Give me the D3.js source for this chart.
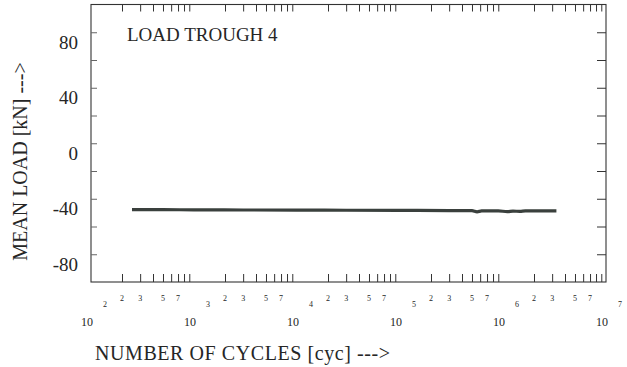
<!DOCTYPE html>
<html>
<head>
<meta charset="utf-8">
<script src="https://cdn.jsdelivr.net/npm/d3@7"></script>
<style>
  html, body { margin: 0; padding: 0; background: #fff; }
  svg { display: block; }
</style>
</head>
<body>
<svg id="chart" width="627" height="367"></svg>
<script>
// ---- data ----
const cycles   = [250, 500, 1000, 3000, 10000, 30000, 100000, 300000, 500000, 560000, 620000, 700000, 900000, 1100000, 1250000, 1460000, 1650000, 2000000, 3300000];
const meanLoad = [-47.9, -47.9, -48.0, -48.1, -48.2, -48.3, -48.4, -48.5, -48.6, -49.4, -48.8, -48.7, -48.7, -49.3, -48.9, -49.1, -48.8, -48.8, -48.8];
const decades      = [2, 3, 4, 5, 6, 7];
const minorMult    = [2, 3, 4, 5, 6, 7, 8, 9];
const minorLabels  = [2, 3, 5, 7];
const yTicks       = [-80, -60, -40, -20, 0, 20, 40, 60, 80];
const yLabels      = [-80, -40, 0, 40, 80];
const chartTitle   = "LOAD TROUGH 4";
const xTitle       = "NUMBER OF CYCLES [cyc] --->";
const yTitle       = "MEAN LOAD [kN] --->";

// ---- layout ----
const FONT = "'Liberation Serif', 'Times New Roman', serif";
const INK = "#262626";
const L = 91, R = 606, T = 4.5, B = 282;
const svg = d3.select("#chart").attr("font-family", FONT);

const x = d3.scaleLog().domain([1e2, 1e7]).range([L, R]);
const y = d3.scaleLinear().domain([-100, 100]).range([B, T]);

const minorVals = [];
decades.slice(0, -1).forEach(d => minorMult.forEach(m => minorVals.push(m * Math.pow(10, d))));

// frame
svg.append("rect").attr("x", L).attr("y", T).attr("width", R - L).attr("height", B - T)
  .attr("fill", "none").attr("stroke", "#333").attr("stroke-width", 1.1);

function styleAxis(g) {
  g.select(".domain").remove();
  g.selectAll("line").attr("stroke", "#333").attr("stroke-width", 1);
}

// bottom and top minor ticks (inward)
svg.append("g").attr("transform", `translate(0,${B})`)
  .call(d3.axisBottom(x).tickValues(minorVals).tickSize(-8).tickFormat(""))
  .call(styleAxis);
svg.append("g").attr("transform", `translate(0,${T})`)
  .call(d3.axisTop(x).tickValues(minorVals).tickSize(-7).tickFormat(""))
  .call(styleAxis);

// left and right ticks (inward)
svg.append("g").attr("transform", `translate(${L},0)`)
  .call(d3.axisLeft(y).tickValues(yTicks).tickSize(-6).tickFormat(""))
  .call(styleAxis).selectAll("line").attr("stroke", "#666");
svg.append("g").attr("transform", `translate(${R},0)`)
  .call(d3.axisRight(y).tickValues(yTicks).tickSize(-9).tickFormat(""))
  .call(styleAxis);

function txt(sel) {
  return sel.attr("font-family", FONT).attr("fill", INK);
}

// y labels (sit a bit below their tick, as in the scan)
svg.append("g").selectAll("text").data(yLabels).join("text")
  .call(txt)
  .attr("x", 78).attr("y", d => y(d) + 10)
  .attr("dy", "0.35em")
  .attr("text-anchor", "end")
  .attr("font-size", 19)
  .text(d => d);

// x minor labels
const minorLab = [];
decades.slice(0, -1).forEach(d => minorLabels.forEach(m => minorLab.push({v: m * Math.pow(10, d), m})));
svg.append("g").selectAll("text").data(minorLab).join("text")
  .call(txt)
  .attr("x", d => x(d.v)).attr("y", 301)
  .attr("text-anchor", "middle").attr("font-size", 8)
  .text(d => d.m);

// decade labels: "10" with exponent
const dec = svg.append("g").selectAll("g").data(decades).join("g");
dec.append("text").call(txt)
  .attr("x", d => x(Math.pow(10, d)) - 4).attr("y", 326)
  .attr("text-anchor", "middle").attr("font-size", 12)
  .text("10");
dec.append("text").call(txt)
  .attr("x", d => x(Math.pow(10, d)) + 14).attr("y", 307)
  .attr("text-anchor", "middle").attr("font-size", 8)
  .text(d => d);

// data line
const line = d3.line().x((d, i) => x(cycles[i])).y(d => y(d)).curve(d3.curveMonotoneX);
svg.append("path").datum(meanLoad)
  .attr("d", line)
  .attr("fill", "none").attr("stroke", "#3a403d").attr("stroke-width", 3.2)
  .attr("stroke-linejoin", "round");

// titles
svg.append("text").call(txt).attr("x", 127).attr("y", 41).attr("font-size", 19).text(chartTitle);
svg.append("text").call(txt).attr("x", 95).attr("y", 360).attr("font-size", 20)
  .attr("textLength", 295).attr("lengthAdjust", "spacing").text(xTitle);
svg.append("text").call(txt)
  .attr("transform", "translate(27,161.5) rotate(-90)")
  .attr("text-anchor", "middle").attr("font-size", 20)
  .text(yTitle);
</script>
</body>
</html>
